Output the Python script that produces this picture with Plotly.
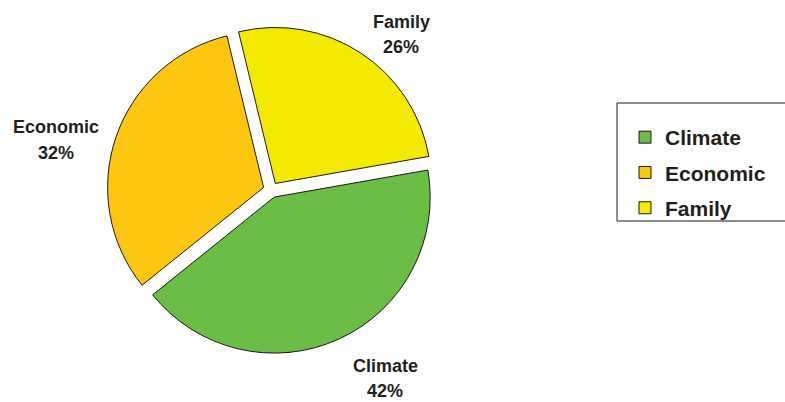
import plotly.graph_objects as go

labels = ["Climate", "Economic", "Family"]
values = [42, 32, 26]
colors = ["#6abd45", "#fdc70f", "#f4e900"]

# label anchor positions (pixels, from top-left): name line, percent line
label_pos = {"Climate": (385, 366, 391), "Economic": (56, 127, 153), "Family": (401, 22, 47)}

W, H = 785, 402
cx, cy, r, pull = 271, 190, 156, 0.05
half = r * (1 + pull)
FONT = "Liberation Sans, Arial"
TXT = "#231f20"

fig = go.Figure(go.Pie(
    labels=labels, values=values, sort=False, direction="clockwise",
    rotation=80, pull=[pull] * len(values), textinfo="none", hoverinfo="label+percent",
    marker=dict(colors=colors, line=dict(color="#1a1a1a", width=1)),
    showlegend=False,
    domain=dict(x=[(cx - half) / W, (cx + half) / W], y=[(H - cy - half) / H, (H - cy + half) / H]),
))

total = sum(values)
for lab, v in zip(labels, values):
    x, y1, y2 = label_pos[lab]
    for txt, yy in ((lab, y1), (f"{round(100 * v / total)}%", y2)):
        fig.add_annotation(x=x / W, y=1 - yy / H, xref="paper", yref="paper", showarrow=False,
                           xanchor="center", yanchor="middle", text=f"<b>{txt}</b>",
                           font=dict(family=FONT, size=18, color=TXT))

# legend entries (one per slice, same colours)
for i, (lab, col) in enumerate(zip(labels, colors)):
    fig.add_trace(go.Scatter(
        x=[None], y=[None], mode="markers", name=lab, legendgroup=f"g{i}",
        marker=dict(symbol="square", size=12, color=col, line=dict(color="#1a1a1a", width=1)),
    ))

fig.add_shape(type="rect", xref="paper", yref="paper", x0=617 / W, x1=800 / W,
              y0=1 - 221 / H, y1=1 - 103 / H, line=dict(color="#1a1a1a", width=1), fillcolor="rgba(0,0,0,0)")

fig.update_layout(
    width=W, height=H, margin=dict(l=0, r=0, t=0, b=0),
    paper_bgcolor="white", plot_bgcolor="white",
    xaxis=dict(visible=False), yaxis=dict(visible=False),
    legend=dict(x=625 / W, y=1 - 117 / H, xanchor="left", yanchor="top",
                tracegroupgap=5,
                font=dict(family=FONT, size=21, color=TXT, weight="bold"),
                bgcolor="rgba(0,0,0,0)", borderwidth=0),
)
fig.write_html("out.html")
